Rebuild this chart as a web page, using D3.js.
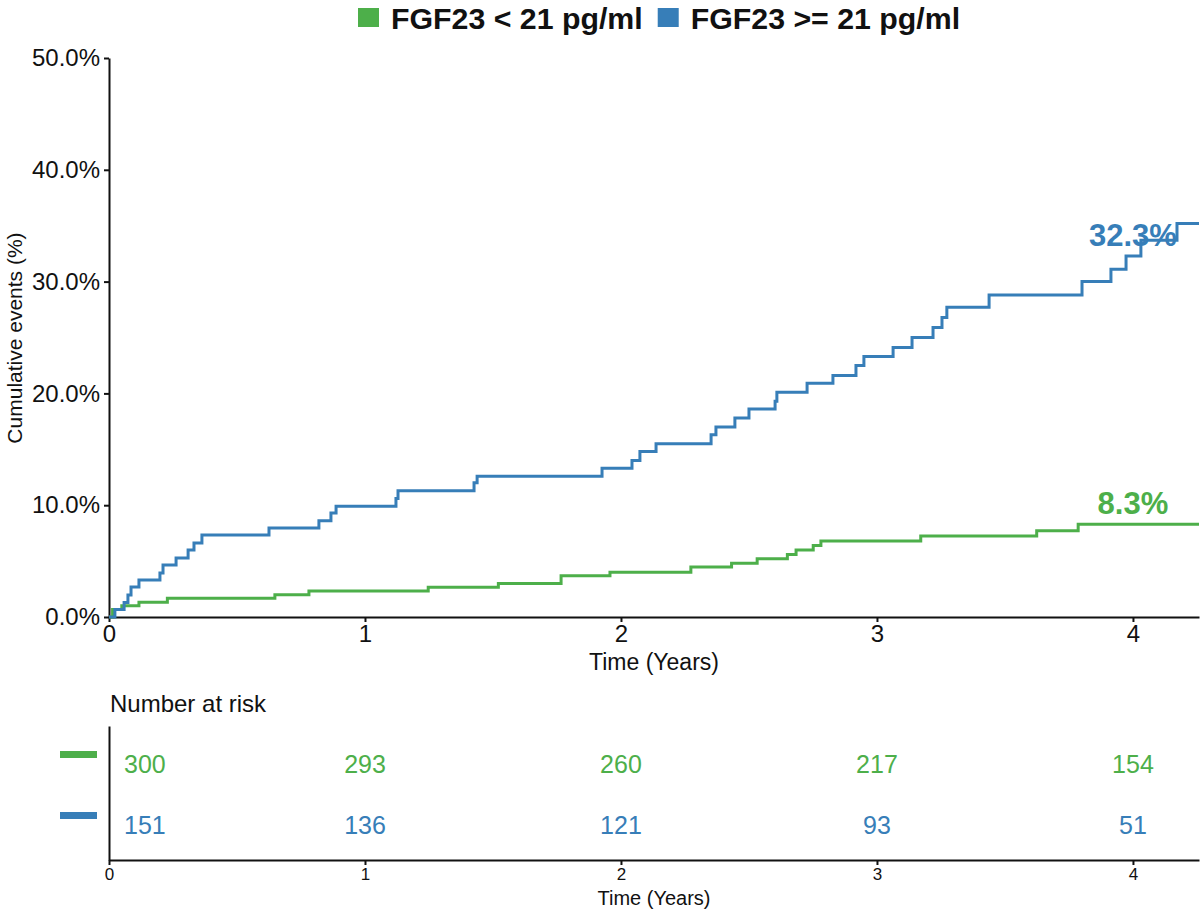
<!DOCTYPE html>
<html>
<head>
<meta charset="utf-8">
<script src="https://cdn.jsdelivr.net/npm/d3@7"></script>
<style>
  body { margin: 0; background: white; }
  svg text { font-family: "Liberation Sans", Arial, sans-serif; }
</style>
</head>
<body>
<script>
// groups and colours
var groups = ["FGF23 < 21 pg/ml", "FGF23 >= 21 pg/ml"];
var colors = ["#4daf4a", "#377eb8"];

// cumulative incidence steps (years, %)
var lowTimes = [0, 0.014, 0.050, 0.117, 0.228, 0.648, 0.781, 1.247, 1.521, 1.766, 1.957, 2.273, 2.432, 2.532, 2.650, 2.684, 2.751, 2.781, 3.171, 3.624, 3.786];
var lowPct   = [0, 0.67, 1.0, 1.33, 1.67, 2.0, 2.33, 2.67, 3.0, 3.7, 4.0, 4.47, 4.8, 5.2, 5.6, 6.0, 6.4, 6.8, 7.25, 7.72, 8.3];

var highTimes = [0, 0.023, 0.059, 0.074, 0.086, 0.117, 0.199, 0.211, 0.262, 0.309, 0.332, 0.363, 0.625, 0.820, 0.867, 0.887, 1.121, 1.129, 1.426, 1.438,
                 1.926, 2.043, 2.074, 2.137, 2.352, 2.371, 2.445, 2.500, 2.602, 2.609, 2.727, 2.828, 2.918, 2.949,
                 3.063, 3.137, 3.219, 3.254, 3.273, 3.438, 3.801, 3.914, 3.973, 4.031, 4.172];
var highPct   = [0, 0.66, 1.3, 1.97, 2.68, 3.31, 3.94, 4.65, 5.28, 5.99, 6.62, 7.33, 7.96, 8.6, 9.3, 9.9, 10.6, 11.3, 12.0, 12.6,
                 13.3, 14.0, 14.8, 15.5, 16.3, 17.0, 17.8, 18.6, 19.3, 20.1, 20.9, 21.6, 22.5, 23.3,
                 24.1, 25.0, 25.9, 26.8, 27.7, 28.8, 30.0, 31.1, 32.3, 33.7, 35.2];

var endLabels = [8.3, 32.3];

// number at risk
var riskTimes = [0, 1, 2, 3, 4];
var riskLow = [300, 293, 260, 217, 154];
var riskHigh = [151, 136, 121, 93, 51];

var yTicks = [0, 10, 20, 30, 40, 50];
var xTicks = [0, 1, 2, 3, 4];
var maxTime = 4.258;

var width = 1203, height = 911;
var svg = d3.select("body").append("svg")
    .attr("width", width)
    .attr("height", height);

var x = d3.scaleLinear().domain([0, maxTime]).range([109, 1199]);
var y = d3.scaleLinear().domain([0, 50]).range([617, 58]);

// legend
var legend = svg.append("g");
var lx = 358;
groups.forEach(function(g, i) {
    legend.append("rect")
        .attr("x", lx).attr("y", 8)
        .attr("width", 21).attr("height", 19)
        .attr("fill", colors[i]);
    var t = legend.append("text")
        .attr("x", lx + 33).attr("y", 29)
        .attr("font-size", 30.3).attr("font-weight", "bold")
        .attr("fill", "#111")
        .text(g);
    lx = lx + 33 + t.node().getComputedTextLength() + 15;
});

// axes
var yAxis = d3.axisLeft(y).tickValues(yTicks)
    .tickFormat(function(d) { return d.toFixed(1) + "%"; })
    .tickSize(5).tickSizeOuter(0).tickPadding(4);
var gy = svg.append("g").attr("transform", "translate(109,0)").call(yAxis);
gy.selectAll("text").attr("font-size", 24).attr("fill", "#111");

var xAxis = d3.axisBottom(x).tickValues(xTicks).tickFormat(d3.format("d"))
    .tickSize(5).tickSizeOuter(0).tickPadding(3);
var gx = svg.append("g").attr("transform", "translate(0,617)").call(xAxis);
gx.selectAll("text").attr("font-size", 24).attr("fill", "#111");

svg.selectAll(".domain, .tick line").attr("stroke", "#111").attr("stroke-width", 2);

svg.append("text")
    .attr("x", 654).attr("y", 670)
    .attr("text-anchor", "middle").attr("font-size", 23).attr("fill", "#111")
    .text("Time (Years)");

svg.append("text")
    .attr("transform", "translate(22,338) rotate(-90)")
    .attr("text-anchor", "middle").attr("font-size", 21).attr("fill", "#111")
    .text("Cumulative events (%)");

// curves
var line = d3.line()
    .x(function(d) { return x(d[0]); })
    .y(function(d) { return y(d[1]); })
    .curve(d3.curveStepAfter);

[[lowTimes, lowPct], [highTimes, highPct]].forEach(function(s, i) {
    var pts = s[0].map(function(t, j) { return [t, s[1][j]]; });
    pts.push([maxTime, s[1][s[1].length - 1]]);
    svg.append("path")
        .datum(pts)
        .attr("d", line)
        .attr("fill", "none")
        .attr("stroke", colors[i])
        .attr("stroke-width", 3);
});

endLabels.forEach(function(v, i) {
    svg.append("text")
        .attr("x", x(4)).attr("y", y(v) - 10)
        .attr("text-anchor", "middle")
        .attr("font-size", 31).attr("font-weight", "bold")
        .attr("fill", colors[i])
        .text(v.toFixed(1) + "%");
});

// number at risk table
svg.append("text")
    .attr("x", 110).attr("y", 712)
    .attr("font-size", 24).attr("fill", "#111")
    .text("Number at risk");

var rowY = [764, 825];
[riskLow, riskHigh].forEach(function(vals, i) {
    svg.append("rect")
        .attr("x", 60).attr("y", rowY[i] - 13)
        .attr("width", 37).attr("height", 7)
        .attr("fill", colors[i]);
    vals.forEach(function(v, j) {
        var t = riskTimes[j];
        svg.append("text")
            .attr("x", t === 0 ? x(t) + 15 : x(t))
            .attr("y", rowY[i])
            .attr("dy", "0.35em")
            .attr("text-anchor", t === 0 ? "start" : "middle")
            .attr("font-size", 25)
            .attr("fill", colors[i])
            .text(v);
    });
});

var riskY = d3.scaleLinear().domain([0, 1]).range([860, 726]);
var gry = svg.append("g").attr("transform", "translate(109,0)")
    .call(d3.axisLeft(riskY).tickValues([]).tickSizeOuter(0));
var grx = svg.append("g").attr("transform", "translate(0,860)")
    .call(d3.axisBottom(x).tickValues(xTicks).tickFormat(d3.format("d"))
        .tickSize(5).tickSizeOuter(0).tickPadding(3));
grx.selectAll("text").attr("font-size", 17).attr("fill", "#111");
gry.selectAll(".domain").attr("stroke", "#111").attr("stroke-width", 2);
grx.selectAll(".domain, .tick line").attr("stroke", "#111").attr("stroke-width", 2);

svg.append("text")
    .attr("x", 654).attr("y", 905)
    .attr("text-anchor", "middle").attr("font-size", 20).attr("fill", "#111")
    .text("Time (Years)");
</script>
</body>
</html>
